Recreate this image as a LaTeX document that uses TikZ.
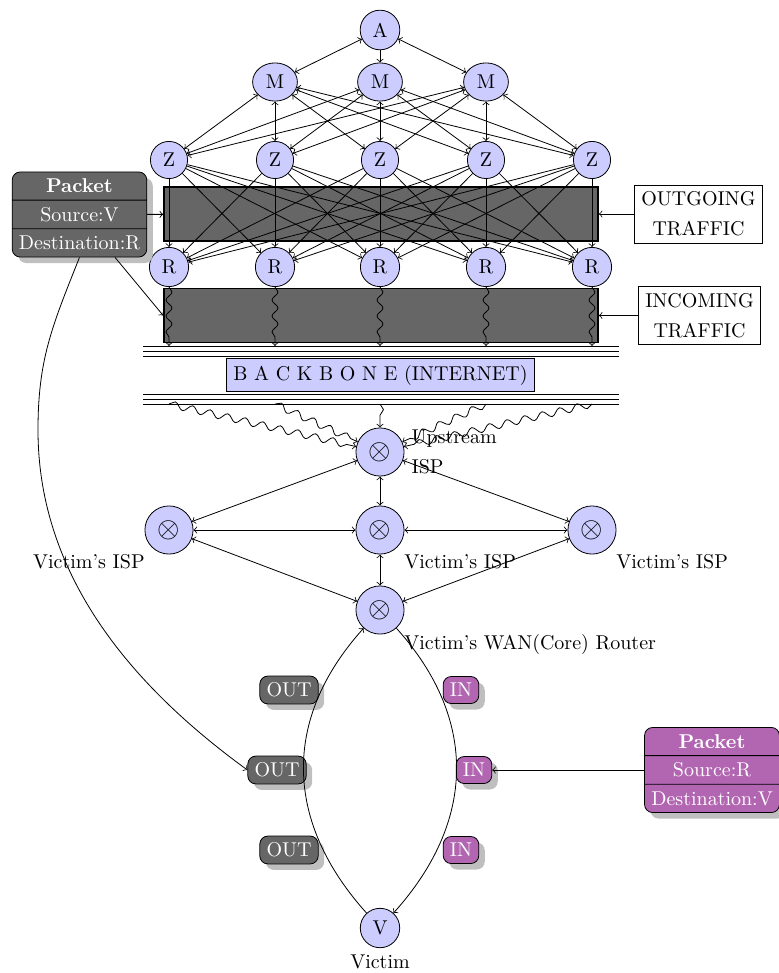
\documentclass[tikz,border=0pt]{standalone}
\usetikzlibrary{shapes.geometric,shapes.multipart,shadows,decorations.pathmorphing}
\begin{document}
\begin{tikzpicture}[x=0.5pt,y=-0.5pt,
  hub/.style={circle,draw,fill=blue!20},
  mnode/.style={ellipse,draw,fill=blue!20},
  isp/.style={circle,draw,fill=blue!20},
  bar/.style={draw,thick,fill=black!60,minimum width=217pt,minimum height=27pt,inner sep=0pt},
  notebox/.style={draw,align=center,font={\linespread{1.25}\selectfont}},
  shade/.style={drop shadow={shadow xshift=3pt,shadow yshift=-3pt,fill=black!25,opacity=1}},
  pkt/.style={rectangle split,rectangle split parts=3,draw,rounded corners=4pt,text=white,shade},
  tag/.style={draw,rounded corners=4pt,text=white,shade},
  wavy/.style={->,decorate,decoration={snake,amplitude=1.5pt,segment length=8pt,post length=3pt}},
  widewavy/.style={->,decorate,decoration={snake,amplitude=1.75pt,segment length=9pt,post length=3pt}}]
\useasboundingbox (0,0) rectangle (779,973);

% distribution tree
\node[hub] (A) at (380,30) {A};
\foreach \x [count=\i] in {275,380,486} \node[mnode] (M\i) at (\x,82) {M};
\foreach \x [count=\i] in {169,275,380,486,592} {
  \node[hub] (Z\i) at (\x,160) {Z};
  \node[hub] (R\i) at (\x,267) {R};
  \coordinate (t\i) at (\x,346);
  \coordinate (b\i) at (\x,404);
}

% traffic bands
\node[bar] (outrect) at (381,214) {};
\node[bar] (inrect) at (381,315.5) {};
\node[notebox] (og) at (698.5,214) {OUTGOING\\TRAFFIC};
\node[notebox] (ic) at (699.5,315.5) {INCOMING\\TRAFFIC};

% backbone
\foreach \y in {346,351,356,394,399,404} \draw (143,\y) -- (619,\y);
\node[draw,fill=blue!20] (bb) at (380.5,375) {B A C K B O N E (INTERNET)};

% packets
\node[pkt,fill=black!60] (pk1) at (79.5,214.5)
  {\textbf{Packet}\nodepart{two}Source:V\nodepart{three}Destination:R};
\node[pkt,fill=violet!60] (pk2) at (712,770)
  {\textbf{Packet}\nodepart{two}Source:R\nodepart{three}Destination:V};

% routers
\node[isp,label={[align=left,font={\linespread{1.25}\selectfont}]right:Upstream\\ISP}] (up) at (380,452) {\Large$\otimes$};
\node[isp,label={below left:Victim's ISP}] (isp1) at (169,530) {\Large$\otimes$};
\node[isp,label={below right:Victim's ISP}] (isp2) at (380,530) {\Large$\otimes$};
\node[isp,label={below right:Victim's ISP}] (isp3) at (592,530) {\Large$\otimes$};
\node[isp,label={below right:Victim's WAN(Core) Router}] (wan) at (380,610) {\Large$\otimes$};
\node[hub,label={below:Victim}] (V) at (380,928) {V};

% in/out tags
\node[tag,fill=black!60] (out1) at (289,690) {OUT};
\node[tag,fill=black!60] (out2) at (277,770) {OUT};
\node[tag,fill=black!60] (out3) at (289,850) {OUT};
\node[tag,fill=violet!60] (in1) at (461,690) {IN};
\node[tag,fill=violet!60] (in2) at (474,770) {IN};
\node[tag,fill=violet!60] (in3) at (461,850) {IN};

% tree links
\draw[<->] (A) -- (M1);
\draw[->] (A) -- (M2);
\draw[<->] (A) -- (M3);
\foreach \m in {1,2,3} \foreach \z in {1,...,5} \draw[<->] (M\m) -- (Z\z);
\foreach \z in {1,...,5} \foreach \r in {1,...,5} \draw[->] (Z\z) -- (R\r);
\foreach \i in {1,...,5} {
  \draw[wavy] (R\i) -- (t\i);
  \draw[widewavy] (b\i) -- (up);
}

% labels to bands
\draw[->] (og) -- (outrect);
\draw[->] (ic) -- (inrect);
\draw[->] (pk1) -- (outrect);
\draw[->] (pk1) -- (inrect.west);
\coordinate (sweep) at (38,430);
\draw[->] (pk1.south) .. controls +(-28,70) and +(0,-70) .. (sweep)
  .. controls +(0,150) and +(-110,-80) .. (out2.west);
\draw[->] (pk2) -- (in2);

% ISP mesh
\draw[<->] (up) -- (isp1);
\draw[<->] (up) -- (isp2);
\draw[<->] (up) -- (isp3);
\draw[<->] (isp1) -- (isp2);
\draw[<->] (isp2) -- (isp3);
\draw[<->] (isp1) -- (wan);
\draw[<->] (isp2) -- (wan);
\draw[<->] (isp3) -- (wan);

% victim loop
\draw[->] (V) to[out=132,in=228,looseness=1.1] (wan);
\draw[->] (wan) to[out=-48,in=48,looseness=1.1] (V);
\end{tikzpicture}
\end{document}
